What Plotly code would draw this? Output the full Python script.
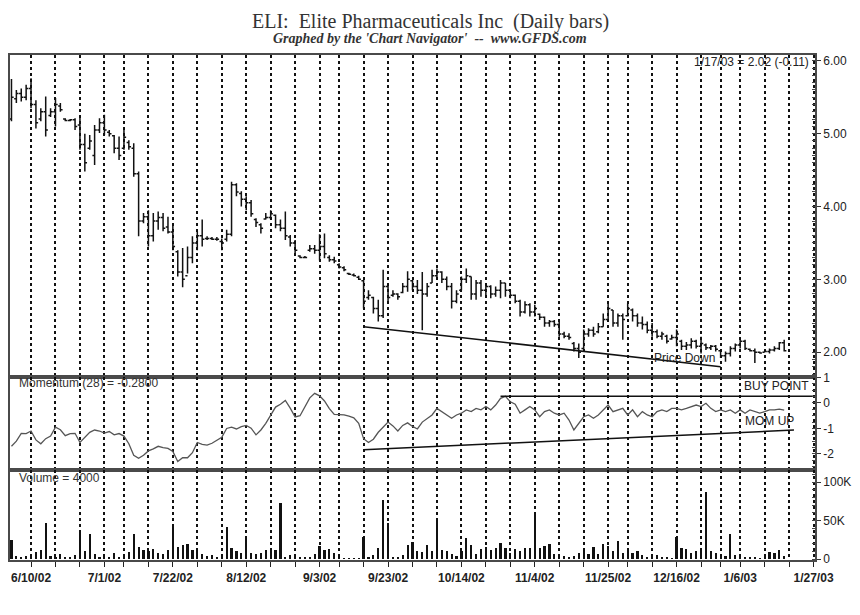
import pandas as pd
import plotly.graph_objects as go

# ---------------- data ----------------
holidays = ['2002-07-04', '2002-09-02', '2002-11-28', '2002-12-25', '2003-01-01']
trade_dates = [d for d in pd.bdate_range('2002-06-04', '2003-01-17')
               if d.strftime('%Y-%m-%d') not in holidays]
future_dates = list(pd.bdate_range('2003-01-20', '2003-01-27'))

high = [5.75, 5.60, 5.62, 5.67, 5.76, 5.46, 5.35, 5.51, 5.35, 5.49,
        5.42, 5.21, 5.20, 5.21, 5.24, 5.00, 4.98, 5.12, 5.21, 5.26,
        5.05, 4.98, 4.96, 5.07, 4.91, 4.87, 4.48, 3.91, 3.95, 3.91,
        3.93, 3.91, 3.86, 3.77, 3.40, 3.43, 3.45, 3.59, 3.66, 3.82,
        3.59, 3.58, 3.58, 3.56, 3.68, 4.34, 4.32, 4.21, 4.14, 4.09,
        3.84, 3.77, 3.91, 3.95, 3.89, 3.82, 3.93, 3.61, 3.54, 3.33,
        3.32, 3.47, 3.47, 3.62, 3.63, 3.33, 3.31, 3.22, 3.18, 3.09,
        3.08, 3.05, 2.99, 2.85, 2.76, 2.72, 3.13, 2.95, 2.85, 2.81,
        2.95, 3.11, 2.99, 2.99, 3.10, 2.95, 3.13, 3.15, 3.11, 3.04,
        2.95, 2.85, 3.04, 3.15, 3.04, 2.99, 2.99, 2.95, 2.92, 2.90,
        2.99, 2.95, 2.85, 2.79, 2.72, 2.70, 2.67, 2.65, 2.53, 2.49,
        2.44, 2.44, 2.42, 2.28, 2.26, 2.14, 2.12, 2.31, 2.33, 2.35,
        2.40, 2.53, 2.67, 2.58, 2.53, 2.53, 2.67, 2.60, 2.53, 2.49,
        2.42, 2.40, 2.31, 2.28, 2.24, 2.24, 2.31, 2.17, 2.14, 2.19,
        2.17, 2.21, 2.12, 2.10, 2.10, 2.03, 2.01, 2.08, 2.12, 2.19,
        2.17, 2.05, 2.05, 2.01, 2.02, 2.05, 2.08, 2.14, 2.17]
low = [5.17, 5.42, 5.44, 5.46, 5.35, 5.07, 5.17, 4.96, 5.23, 5.10,
       5.30, 5.17, 5.17, 5.05, 4.78, 4.48, 4.78, 4.57, 5.01, 4.98,
       4.96, 4.73, 4.64, 4.78, 4.78, 4.41, 3.59, 3.77, 3.45, 3.52,
       3.68, 3.66, 3.63, 3.40, 3.04, 2.89, 3.08, 3.22, 3.40, 3.45,
       3.54, 3.54, 3.53, 3.40, 3.52, 3.59, 4.14, 4.00, 3.95, 3.86,
       3.72, 3.63, 3.82, 3.82, 3.70, 3.66, 3.54, 3.45, 3.36, 3.29,
       3.29, 3.38, 3.35, 3.26, 3.29, 3.24, 3.22, 3.15, 3.11, 3.06,
       3.04, 2.99, 2.60, 2.72, 2.53, 2.42, 2.47, 2.67, 2.76, 2.72,
       2.81, 2.83, 2.85, 2.80, 2.30, 2.76, 2.95, 2.99, 2.95, 2.85,
       2.60, 2.67, 2.85, 2.95, 2.72, 2.72, 2.76, 2.76, 2.74, 2.76,
       2.74, 2.76, 2.74, 2.67, 2.49, 2.53, 2.49, 2.49, 2.44, 2.35,
       2.35, 2.35, 2.21, 2.19, 2.17, 2.01, 1.92, 2.03, 2.21, 2.21,
       2.26, 2.35, 2.44, 2.35, 2.35, 2.17, 2.49, 2.42, 2.35, 2.31,
       2.26, 2.21, 2.19, 2.17, 2.12, 2.17, 2.08, 2.03, 2.03, 2.05,
       2.05, 1.98, 2.03, 2.03, 2.01, 1.92, 1.87, 1.94, 2.01, 2.05,
       2.03, 2.01, 1.85, 1.98, 2.00, 1.98, 2.01, 2.03, 2.01]
open_ = [5.20, 5.48, 5.55, 5.50, 5.62, 5.40, 5.20, 5.30, 5.25, 5.30,
         5.38, 5.20, 5.18, 5.19, 5.12, 4.85, 4.80, 4.70, 5.05, 5.15,
         5.02, 4.97, 4.80, 4.80, 4.88, 4.80, 4.45, 3.80, 3.86, 3.60,
         3.80, 3.85, 3.72, 3.65, 3.38, 3.10, 3.05, 3.30, 3.50, 3.60,
         3.56, 3.56, 3.55, 3.52, 3.55, 3.62, 4.30, 4.18, 4.10, 4.05,
         3.82, 3.75, 3.83, 3.85, 3.88, 3.75, 3.70, 3.58, 3.50, 3.32,
         3.30, 3.40, 3.42, 3.40, 3.45, 3.30, 3.27, 3.20, 3.16, 3.08,
         3.06, 3.03, 2.98, 2.75, 2.75, 2.60, 2.50, 2.90, 2.78, 2.80,
         2.82, 2.90, 2.98, 2.90, 2.85, 2.80, 2.95, 3.05, 3.10, 3.00,
         2.90, 2.70, 2.85, 3.00, 3.04, 2.80, 2.95, 2.85, 2.90, 2.80,
         2.85, 2.95, 2.85, 2.78, 2.70, 2.55, 2.65, 2.55, 2.52, 2.48,
         2.40, 2.42, 2.38, 2.25, 2.22, 2.12, 2.05, 2.05, 2.25, 2.30,
         2.28, 2.35, 2.45, 2.58, 2.40, 2.50, 2.50, 2.58, 2.50, 2.40,
         2.38, 2.30, 2.28, 2.22, 2.22, 2.18, 2.20, 2.15, 2.08, 2.10,
         2.15, 2.08, 2.10, 2.06, 2.08, 2.02, 1.95, 1.98, 2.05, 2.10,
         2.15, 2.04, 2.02, 2.00, 2.00, 2.01, 2.03, 2.05, 2.13]
close = [5.50, 5.55, 5.50, 5.62, 5.40, 5.15, 5.30, 5.05, 5.30, 5.40,
         5.33, 5.18, 5.19, 5.10, 4.85, 4.60, 4.90, 5.05, 5.15, 5.05,
         5.00, 4.80, 4.70, 4.95, 4.82, 4.45, 3.80, 3.86, 3.60, 3.80,
         3.85, 3.70, 3.65, 3.45, 3.10, 3.00, 3.30, 3.50, 3.60, 3.55,
         3.56, 3.55, 3.55, 3.50, 3.62, 4.30, 4.20, 4.10, 4.05, 3.90,
         3.78, 3.70, 3.85, 3.90, 3.75, 3.70, 3.60, 3.50, 3.40, 3.30,
         3.30, 3.42, 3.40, 3.45, 3.35, 3.27, 3.25, 3.17, 3.13, 3.07,
         3.05, 3.00, 2.70, 2.78, 2.60, 2.50, 2.90, 2.75, 2.80, 2.76,
         2.90, 3.00, 2.90, 2.85, 2.80, 2.90, 3.05, 3.10, 3.00, 2.90,
         2.70, 2.80, 3.00, 3.05, 2.80, 2.95, 2.85, 2.90, 2.80, 2.85,
         2.95, 2.85, 2.78, 2.70, 2.55, 2.65, 2.55, 2.60, 2.48, 2.40,
         2.42, 2.38, 2.25, 2.22, 2.20, 2.05, 2.00, 2.25, 2.30, 2.25,
         2.35, 2.45, 2.60, 2.40, 2.50, 2.45, 2.60, 2.50, 2.40, 2.38,
         2.30, 2.28, 2.22, 2.25, 2.15, 2.20, 2.25, 2.08, 2.10, 2.15,
         2.08, 2.12, 2.06, 2.08, 2.04, 1.95, 1.98, 2.05, 2.10, 2.15,
         2.05, 2.02, 2.00, 1.99, 2.01, 2.03, 2.05, 2.13, 2.02]
momentum = [-1.70, -1.50, -1.19, -1.20, -1.10, -1.45, -1.60, -1.40, -1.30, -0.95,
            -1.05, -1.28, -1.20, -1.19, -1.55, -1.35, -1.15, -1.06, -1.10, -1.18,
            -1.12, -1.25, -1.20, -1.30, -1.60, -2.05, -2.17, -2.05, -1.88, -1.80,
            -1.70, -1.75, -1.78, -1.90, -2.30, -2.15, -2.15, -1.95, -1.55, -1.62,
            -1.65, -1.58, -1.48, -1.35, -1.00, -0.95, -1.02, -0.93, -0.88, -0.99,
            -1.25, -1.06, -0.80, -0.45, -0.16, -0.05, 0.10, -0.20, -0.55, -0.50,
            -0.15, 0.20, 0.38, 0.28, 0.08, -0.22, -0.45, -0.47, -0.47, -0.52,
            -0.58, -0.80, -1.40, -1.55, -1.42, -1.15, -0.95, -0.75, -0.90, -1.10,
            -0.88, -0.78, -0.92, -1.02, -0.75, -0.60, -0.47, -0.21, -0.34, -0.47,
            -0.60, -0.47, -0.40, -0.27, -0.34, -0.21, -0.27, -0.14, -0.27, -0.08,
            0.18, 0.26, 0.05, -0.05, -0.40, -0.27, -0.14, -0.27, -0.54, -0.34,
            -0.27, -0.40, -0.47, -0.40, -0.67, -1.06, -0.80, -0.54, -0.47, -0.60,
            -0.47, -0.27, -0.08, -0.34, -0.27, -0.21, -0.47, -0.27, -0.54, -0.34,
            -0.47, -0.54, -0.34, -0.27, -0.34, -0.21, -0.21, -0.27, -0.21, -0.14,
            -0.08, -0.14, -0.01, -0.21, -0.34, -0.27, -0.34, -0.27, -0.40, -0.27,
            -0.40, -0.27, -0.34, -0.40, -0.34, -0.27, -0.27, -0.24, -0.28]
volume = [25000, 4000, 3000, 4000, 5000, 9000, 12000, 47000, 4000, 2000,
          6000, 3000, 3000, 5000, 35000, 10000, 32000, 6000, 2000, 3000,
          3000, 8000, 3000, 5000, 9000, 32000, 16000, 12000, 10000, 13000,
          8000, 6000, 12000, 42000, 16000, 18000, 19000, 12000, 14000, 6000,
          4000, 5000, 2000, 6000, 42000, 14000, 10000, 8000, 29000, 8000,
          6000, 8000, 12000, 10000, 12000, 73000, 3000, 5000, 3000, 2000,
          2000, 3000, 6000, 17000, 12000, 13000, 8000, 3000, 1000, 1000,
          1000, 1000, 29000, 3000, 5000, 14000, 76000, 47000, 3000, 3000,
          5000, 18000, 22000, 10000, 9000, 18000, 10000, 51000, 12000, 10000,
          6000, 4000, 10000, 27000, 18000, 6000, 13000, 16000, 12000, 14000,
          21000, 14000, 8000, 13000, 11000, 14000, 14000, 60000, 14000, 17000,
          19000, 6000, 6000, 4000, 3000, 4000, 8000, 10000, 6000, 15000,
          6000, 19000, 17000, 10000, 23000, 8000, 10000, 8000, 10000, 5000,
          3000, 4000, 5000, 3000, 2000, 1000, 29000, 14000, 13000, 8000,
          10000, 12000, 87000, 10000, 8000, 4000, 4000, 32000, 5000, 7000,
          3000, 2000, 2000, 1000, 5000, 9000, 8000, 12000, 4000]

price_down_dates = ['2002-09-16', '2002-12-30']
price_down_vals = [2.35, 1.80]
mom_up_dates = ['2002-09-16', '2003-01-21']
mom_up_vals = [-1.84, -1.06]
buy_point_dates = ['2002-10-24', '2003-01-27']
buy_point_vals = [0.26, 0.26]

n = len(trade_dates)
assert len(high) == n and len(low) == n and len(open_) == n and len(close) == n
assert len(momentum) == n and len(volume) == n

all_dates = trade_dates + future_dates
pos = {d.strftime('%Y-%m-%d'): k for k, d in enumerate(all_dates)}
xi = list(range(n))

grid_x, grid_text = [], []
for k in range(1, len(all_dates)):
    if all_dates[k].weekday() < all_dates[k - 1].weekday():
        grid_x.append(k)
for j, k in enumerate(grid_x):
    d = all_dates[k]
    grid_text.append(f"{d.month}/{d.day}/{d.strftime('%y')}" if j % 3 == 0 else '')

# ---------------- figure ----------------
INK = '#111111'
FRAME = '#4a4a4a'
FONT = 'Liberation Sans, Arial, sans-serif'

# page body keeps a default 8px margin, so the figure is sized to fit inside it
BODY = 8
FIG_W, FIG_H = 860 - BODY, 615 - BODY
PLOT_L, PLOT_R, PLOT_T, PLOT_B = 8, 815, 55, 560   # page pixels

fig = go.Figure()
fig.add_trace(go.Ohlc(
    x=xi, open=open_, high=high, low=low, close=close,
    increasing=dict(line=dict(color=INK, width=1.5)),
    decreasing=dict(line=dict(color=INK, width=1.5)),
    tickwidth=0.45, showlegend=False, hoverinfo='skip',
    xaxis='x', yaxis='y'))
fig.add_trace(go.Scatter(
    x=[pos[d] for d in price_down_dates], y=price_down_vals, mode='lines',
    line=dict(color=INK, width=1.5), showlegend=False, hoverinfo='skip',
    xaxis='x', yaxis='y'))
fig.add_trace(go.Scatter(
    x=xi, y=momentum, mode='lines', line=dict(color='#555555', width=1.3),
    showlegend=False, hoverinfo='skip', xaxis='x2', yaxis='y2'))
fig.add_trace(go.Scatter(
    x=[pos[d] for d in mom_up_dates], y=mom_up_vals, mode='lines',
    line=dict(color=INK, width=1.5), showlegend=False, hoverinfo='skip',
    xaxis='x2', yaxis='y2'))
fig.add_trace(go.Scatter(
    x=[pos[d] for d in buy_point_dates], y=buy_point_vals, mode='lines',
    line=dict(color=INK, width=1.5), showlegend=False, hoverinfo='skip',
    xaxis='x2', yaxis='y2'))
fig.add_trace(go.Bar(
    x=xi, y=volume, width=0.45, marker=dict(color=INK, line=dict(width=0)),
    showlegend=False, hoverinfo='skip', xaxis='x3', yaxis='y3'))

xr = [-0.3, len(all_dates) - 1 + 0.3]
xbase = dict(range=xr, tickmode='array', tickvals=grid_x, showgrid=True,
             gridcolor='#111111', griddash='dot', gridwidth=1.6,
             showline=True, mirror=True, linecolor=FRAME, linewidth=1.8,
             zeroline=False, fixedrange=True)
ybase = dict(side='right', showgrid=False, zeroline=False, showline=True,
             mirror=True, linecolor=FRAME, linewidth=1.8, ticks='outside',
             ticklen=4, tickcolor='#333333', tickfont=dict(size=12, color='#222222'))

plot_h = PLOT_B - PLOT_T
d_vol = 90 / plot_h
d_mom = 183 / plot_h

fig.update_layout(
    width=FIG_W, height=FIG_H,
    margin=dict(l=PLOT_L - BODY, r=FIG_W - (PLOT_R - BODY), t=PLOT_T - BODY,
                b=FIG_H - (PLOT_B - BODY)),
    paper_bgcolor='white', plot_bgcolor='white',
    font=dict(family=FONT, size=12, color='#222222'),
    bargap=0,
    xaxis=dict(**xbase, anchor='y', showticklabels=False, ticks='',
               rangeslider=dict(visible=False)),
    xaxis2=dict(**xbase, anchor='y2', showticklabels=False, ticks=''),
    xaxis3=dict(**xbase, anchor='y3', ticktext=grid_text, ticks='outside',
                ticklen=5, tickcolor='#222222', ticklabelstandoff=1,
                tickfont=dict(size=12, color='#222222', family=FONT, weight='bold')),
    yaxis=dict(**ybase, domain=[d_mom, 1], anchor='x', range=[1.659, 6.08],
               tickmode='linear', tick0=0, dtick=1, tickformat='.2f',
               minor=dict(tickmode='linear', tick0=0, dtick=0.1, ticks='inside',
                          ticklen=3, tickcolor='#444444', showgrid=False)),
    yaxis2=dict(**ybase, domain=[d_vol, d_mom], anchor='x2', range=[-2.63, 1.02],
                tickmode='array', tickvals=[1, 0, -1, -2], ticktext=['1', '0', '-1', '-2'],
                minor=dict(tickmode='linear', tick0=0, dtick=0.25, ticks='inside',
                           ticklen=3, tickcolor='#444444', showgrid=False)),
    yaxis3=dict(**ybase, domain=[0, d_vol], anchor='x3', range=[-1300, 115600],
                tickmode='array', tickvals=[0, 50000, 100000], ticktext=['0', '50K', '100K'],
                minor=dict(tickmode='linear', tick0=0, dtick=10000, ticks='inside',
                           ticklen=3, tickcolor='#444444', showgrid=False)),
)

last = trade_dates[-1]
last_label = f"{last.month}/{last.day}/{last.strftime('%y')} = {close[-1]:.2f} ({close[-1] - close[-2]:.2f})"


def px_x(px):
    return (px - PLOT_L) / (PLOT_R - PLOT_L)


def px_y(py):
    return (PLOT_B - py) / plot_h


SERIF = 'Liberation Serif, Times New Roman, serif'
ann = [
    dict(text='ELI:\u00a0 Elite Pharmaceuticals Inc\u00a0 (Daily bars)', x=px_x(430), y=px_y(8),
         xanchor='center', yanchor='top',
         font=dict(family=SERIF, size=20, color='#333333')),
    dict(text="Graphed by the 'Chart Navigator'\u00a0 --\u00a0 www.GFDS.com", x=px_x(429), y=px_y(39),
         xanchor='center', yanchor='middle',
         font=dict(family=SERIF, size=14, color='#333333', style='italic', weight='bold')),
    dict(text=last_label, x=px_x(811), y=px_y(62), xanchor='right', yanchor='middle',
         font=dict(size=12, color='#222222')),
    dict(text=f"Momentum (28) = {momentum[-1]:.4f}", x=px_x(15), y=px_y(383),
         xanchor='left', yanchor='middle', font=dict(size=12, color='#333333')),
    dict(text=f"Volume = {volume[-1]}", x=px_x(15), y=px_y(478),
         xanchor='left', yanchor='middle', font=dict(size=12, color='#333333')),
    dict(text='BUY POINT', x=px_x(811), y=px_y(386), xanchor='right', yanchor='middle',
         font=dict(size=12, color='#222222')),
    dict(text='MOM UP', x=px_x(743), y=px_y(421), xanchor='left', yanchor='middle',
         font=dict(size=12, color='#222222')),
    dict(text='Price Down', x=px_x(652), y=px_y(358), xanchor='left', yanchor='middle',
         font=dict(size=12, color='#222222')),
]
for a in ann:
    a.update(xref='paper', yref='paper', showarrow=False)
fig.update_layout(annotations=ann)

fig.write_html("out.html")
